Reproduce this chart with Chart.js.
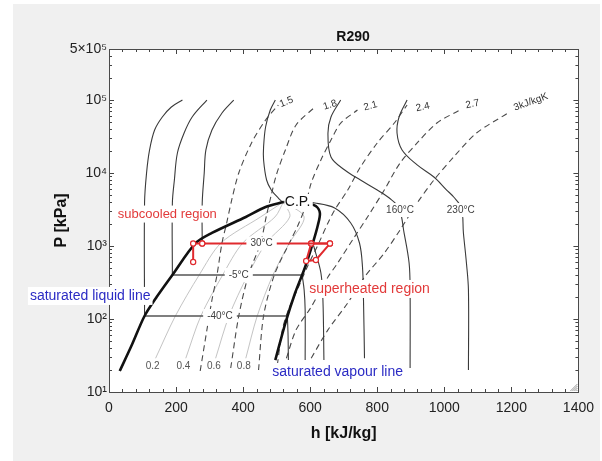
<!DOCTYPE html>
<html>
<head>
<meta charset="utf-8">
<script src="https://cdn.jsdelivr.net/npm/chart.js@4.4.1/dist/chart.umd.min.js"></script>
<style>
html,body{margin:0;padding:0;background:#ffffff;overflow:hidden;}
canvas{display:block;}
</style>
</head>
<body>
<canvas id="chart" width="602" height="461"></canvas>
<script>
// ---------------- values ----------------
const xTickValues = [0, 200, 400, 600, 800, 1000, 1200, 1400];
const yTickValues = [10, 100, 1000, 10000, 100000, 500000];
const yTickLabels = ['10¹', '10²', '10³', '10⁴', '10⁵', '5×10⁵'];

// saturation dome (h in kJ/kg, P in kPa)
const satLiquidH = [32, 68, 106, 142, 189, 257, 307, 408, 467, 520];
const satLiquidP = [19.4, 44, 110, 200, 401, 1080, 1510, 2500, 3420, 4010];
const satVapourH = [520, 579, 617, 629, 623, 608, 585, 555, 526, 496];
const satVapourP = [4010, 3880, 3530, 2830, 1940, 1100, 515, 227, 88, 27.4];

// isotherm -40 °C
const tM40LiqH = [219, 186, 159, 136, 121, 112, 106, 106];
const tM40LiqP = [100000, 80200, 58500, 38800, 20700, 10000, 3880, 110];
const tM40SatH = [106, 532];
const tM40SatP = [110, 110];
const tM40VapH = [532, 534, 535];
const tM40VapP = [110, 60, 27.4];
// isotherm -5 °C
const tM5LiqH = [292, 248, 224, 204, 195, 189, 189];
const tM5LiqP = [100000, 58500, 35300, 18800, 8020, 3880, 401];
const tM5SatH = [189, 576];
const tM5SatP = [401, 401];
const tM5VapH = [576, 582, 585, 585];
const tM5VapP = [401, 249, 133, 27.4];
// isotherm 30 °C
const t30LiqH = [372, 337, 307, 289, 284, 278, 278];
const t30LiqP = [100000, 66400, 38800, 20700, 10000, 3880, 1080];
const t30VapH = [608, 614, 632, 638, 641];
const t30VapP = [1080, 880, 427, 182, 27.4];
// critical isotherm
const tCritH = [496, 481, 467, 461, 461, 470, 484, 505, 520, 564, 614, 673, 721, 747, 756, 759, 762];
const tCritP = [100000, 72900, 42700, 22700, 15100, 8020, 5850, 4540, 4010, 4010, 3880, 3320, 2070, 1100, 515, 182, 29];
// isotherm 160 °C
const t160H = [691, 662, 653, 662, 703, 750, 800, 836, 865, 880, 895, 898, 898];
const t160P = [100000, 58500, 35300, 16600, 11000, 8020, 5850, 4540, 3320, 1510, 585, 249, 21.3];
// isotherm 230 °C
const t230H = [889, 865, 859, 874, 919, 969, 1007, 1028, 1051, 1057, 1066, 1072, 1072];
const t230P = [100000, 58500, 35300, 20700, 12900, 8810, 5850, 4690, 3320, 1510, 585, 249, 20];

// isentropes (kJ/kg-K)
const entropyValues = [1.5, 1.8, 2.1, 2.4, 2.7, 3.0];
const s15H = [272, 292, 307, 322, 337, 351, 366, 387, 425, 467, 505];
const s15P = [19.4, 71, 182, 401, 1100, 2070, 4270, 10000, 25800, 53200, 85500];
const s18H = [363, 387, 416, 452, 470, 484, 499, 526, 558, 614];
const s18P = [21.3, 110, 401, 1100, 2660, 5000, 9400, 20700, 45500, 80200];
const s21H = [446, 461, 493, 538, 564, 585, 603, 632, 662, 691, 741];
const s21P = [20, 110, 401, 1100, 1940, 3420, 7290, 15100, 28300, 48400, 72900];
const s24H = [502, 517, 535, 564, 594, 623, 653, 673, 712, 750, 800, 851, 889];
const s24P = [23.4, 71, 133, 266, 550, 1030, 2070, 3110, 5850, 12100, 25800, 48400, 85500];
const s27H = [529, 558, 603, 653, 682, 732, 771, 821, 868, 919, 978, 1046];
const s27P = [29, 71, 146, 376, 585, 1330, 2500, 5850, 13700, 25800, 48400, 72900];
const s30H = [603, 653, 712, 762, 821, 868, 919, 969, 1028, 1096, 1190];
const s30P = [29, 71, 166, 376, 800, 1660, 3880, 8020, 16600, 35300, 66400];

// vapour quality lines
const qualityValues = [0.2, 0.4, 0.6, 0.8];
const qualityP = [29, 110, 401, 1100, 2500, 4010];
const q02H = [139, 198, 269, 334, 452, 520];
const q04H = [229, 274, 339, 399, 495, 520];
const q06H = [318, 358, 414, 469, 539, 520];
const q08H = [408, 442, 489, 538, 582, 520];

// refrigeration cycle (red)
const cycleExpH = [251, 251, 278];
const cycleExpP = [604, 1080, 1080];
const cycleCondH = [278, 659];
const cycleCondP = [1080, 1080];
const cycleCompH = [603, 659, 617, 588, 603];
const cycleCompP = [1080, 1080, 643, 623, 1080];

// ---------------- annotation anchors (data coordinates) ----------------
const isoLabels = [
  { text: '-40°C', h: 331, p: 110 },
  { text: '-5°C', h: 387, p: 401 },
  { text: '30°C', h: 455, p: 1080 },
  { text: '160°C', h: 868, p: 3110 },
  { text: '230°C', h: 1049, p: 3110 }
];
const qualityLabelAnchors = { h: [130, 222, 313, 402], p: 22.7 };
const entropyLabelAnchors = [
  { h: 529, p: 93900, rot: -22 },
  { h: 659, p: 85500, rot: -18 },
  { h: 780, p: 82800, rot: -15 },
  { h: 936, p: 80200, rot: -12 },
  { h: 1084, p: 88100, rot: -12 },
  { h: 1258, p: 93900, rot: -20 }
];
const regionLabels = [
  { text: 'subcooled region', h: 174, p: 2740, color: '#e23a3a', size: 13 },
  { text: 'superheated region', h: 777, p: 258, color: '#e23a3a', size: 14 },
  { text: 'saturated vapour line', h: 682, p: 18.8, color: '#2b2bc4', size: 14 },
  { text: 'saturated liquid line', h: -56, p: 207, color: '#2b2bc4', size: 14 }
];

// ---------------- chart ----------------
const FONT = "'Liberation Sans', Arial, sans-serif";
Chart.defaults.font.family = FONT;

function pts(h, p) {
  return h.map((x, i) => ({ x: x, y: Array.isArray(p) ? p[i] : p }));
}
function line(h, p, opts) {
  return Object.assign({
    data: pts(h, p), showLine: true, pointRadius: 0, pointHoverRadius: 0,
    borderWidth: 1, borderColor: '#3c3c3c', tension: 0.35, fill: false
  }, opts || {});
}
const RED = '#e02a2e';
const redPts = { borderColor: RED, borderWidth: 2, tension: 0, pointRadius: 2.6,
  pointBackgroundColor: '#ffffff', pointBorderColor: RED, pointBorderWidth: 1.2 };
const isoStyle = { borderColor: '#3a3a3a', borderWidth: 1.1 };
const domeIso = { borderColor: '#555555', borderWidth: 1.6, tension: 0 };
const dashStyle = { borderColor: '#4a4a4a', borderWidth: 1.1, borderDash: [6, 4], tension: 0.3 };
const qualStyle = { borderColor: '#c4c4c4', borderWidth: 1, tension: 0.3 };
const satStyle = { borderColor: '#111111', borderWidth: 2.6, tension: 0.3 };

const datasets = [
  line(cycleExpH, cycleExpP, redPts),
  line(cycleCondH, cycleCondP, redPts),
  line(cycleCompH, cycleCompP, redPts),
  line(satLiquidH, satLiquidP, satStyle),
  line(satVapourH, satVapourP, satStyle),
  line(tM40LiqH, tM40LiqP, isoStyle),
  line(tM40SatH, tM40SatP, domeIso),
  line(tM40VapH, tM40VapP, isoStyle),
  line(tM5LiqH, tM5LiqP, isoStyle),
  line(tM5SatH, tM5SatP, domeIso),
  line(tM5VapH, tM5VapP, isoStyle),
  line(t30LiqH, t30LiqP, isoStyle),
  line(t30VapH, t30VapP, isoStyle),
  line(tCritH, tCritP, isoStyle),
  line(t160H, t160P, isoStyle),
  line(t230H, t230P, isoStyle),
  line(s15H, s15P, dashStyle),
  line(s18H, s18P, dashStyle),
  line(s21H, s21P, dashStyle),
  line(s24H, s24P, dashStyle),
  line(s27H, s27P, dashStyle),
  line(s30H, s30P, dashStyle),
  line(q02H, qualityP, qualStyle),
  line(q04H, qualityP, qualStyle),
  line(q06H, qualityP, qualStyle),
  line(q08H, qualityP, qualStyle)
];

function boxedText(ctx, text, x, y, size, color, pad, weight) {
  ctx.font = (weight || 'normal') + ' ' + size + 'px ' + FONT;
  const w = ctx.measureText(text).width;
  ctx.fillStyle = '#ffffff';
  ctx.fillRect(x - w / 2 - pad, y - size / 2 - 2, w + 2 * pad, size + 4);
  ctx.fillStyle = color;
  ctx.textAlign = 'center';
  ctx.textBaseline = 'middle';
  ctx.fillText(text, x, y);
}

const decor = {
  id: 'decor',
  beforeDraw(chart) {
    const { ctx, chartArea: a } = chart;
    ctx.save();
    ctx.fillStyle = '#ffffff';
    ctx.fillRect(0, 0, chart.width, chart.height);
    ctx.fillStyle = '#f0f0f0';
    ctx.fillRect(13, 4, 587, chart.height - 4);
    ctx.fillStyle = '#ffffff';
    ctx.fillRect(a.left, a.top, a.right - a.left, a.bottom - a.top);
    ctx.restore();
  },
  afterDraw(chart) {
    const { ctx, chartArea: a } = chart;
    const xs = chart.scales.x, ys = chart.scales.y;
    ctx.save();
    // ticks (pointing inward)
    ctx.strokeStyle = '#444444';
    ctx.lineWidth = 1;
    ctx.beginPath();
    for (let v = 0; v <= 1400; v += 40) {
      const px = Math.round(xs.getPixelForValue(v)) + 0.5;
      const len = (v % 200 === 0) ? 5 : 3;
      ctx.moveTo(px, a.bottom); ctx.lineTo(px, a.bottom - len);
      ctx.moveTo(px, a.top); ctx.lineTo(px, a.top + len);
    }
    for (let d = 10; d <= 100000; d *= 10) {
      for (let m = 1; m <= 9; m++) {
        const v = m * d;
        if (v > 500000) break;
        const py = Math.round(ys.getPixelForValue(v)) + 0.5;
        const len = (m === 1) ? 5 : 3;
        ctx.moveTo(a.left, py); ctx.lineTo(a.left + len, py);
        ctx.moveTo(a.right, py); ctx.lineTo(a.right - len, py);
      }
    }
    ctx.stroke();
    // frame
    ctx.strokeStyle = '#4a4a4a';
    ctx.strokeRect(Math.round(a.left) + 0.5, Math.round(a.top) + 0.5,
      Math.round(a.right - a.left), Math.round(a.bottom - a.top));
    // resize grip
    ctx.strokeStyle = '#9a9a9a';
    ctx.beginPath();
    for (let k = 0; k < 7; k += 2) {
      ctx.moveTo(a.right - 1, a.bottom - 8 + k);
      ctx.lineTo(a.right - 8 + k, a.bottom - 1);
    }
    ctx.stroke();

    // title
    ctx.font = 'bold 14px ' + FONT;
    ctx.fillStyle = '#111111';
    ctx.textAlign = 'center';
    ctx.textBaseline = 'middle';
    ctx.fillText('R290', 353, 37);

    // isotherm labels
    isoLabels.forEach(l => {
      boxedText(ctx, l.text, xs.getPixelForValue(l.h), ys.getPixelForValue(l.p), 10, '#404040', 4);
    });
    // critical point
    {
      const cx = xs.getPixelForValue(satLiquidH[satLiquidH.length - 1]);
      const cy = ys.getPixelForValue(satLiquidP[satLiquidP.length - 1]);
      ctx.font = '14px ' + FONT;
      const w = ctx.measureText('C.P.').width;
      ctx.fillStyle = '#ffffff';
      ctx.fillRect(cx + 1, cy - 8, w + 3, 15);
      ctx.fillStyle = '#111111';
      ctx.textAlign = 'left';
      ctx.textBaseline = 'middle';
      ctx.fillText('C.P.', cx + 1.5, cy);
    }
    // quality labels
    ctx.font = '10px ' + FONT;
    ctx.fillStyle = '#555555';
    ctx.textAlign = 'center';
    ctx.textBaseline = 'middle';
    qualityValues.forEach((q, i) => {
      ctx.fillText(q.toFixed(1), xs.getPixelForValue(qualityLabelAnchors.h[i]),
        ys.getPixelForValue(qualityLabelAnchors.p));
    });
    // entropy labels
    entropyValues.forEach((s, i) => {
      const an = entropyLabelAnchors[i];
      const txt = (i === entropyValues.length - 1) ? '3kJ/kgK' : s.toFixed(1);
      ctx.save();
      ctx.translate(xs.getPixelForValue(an.h), ys.getPixelForValue(an.p));
      ctx.rotate(an.rot * Math.PI / 180);
      ctx.font = '10px ' + FONT;
      ctx.fillStyle = '#333333';
      ctx.textAlign = 'center';
      ctx.textBaseline = 'middle';
      ctx.fillText(txt, 0, 0);
      ctx.restore();
    });
    // region labels
    regionLabels.forEach(l => {
      boxedText(ctx, l.text, xs.getPixelForValue(l.h), ys.getPixelForValue(l.p), l.size, l.color, 2);
    });
    ctx.restore();
  }
};

new Chart(document.getElementById('chart'), {
  type: 'scatter',
  data: { datasets: datasets },
  options: {
    responsive: false,
    animation: false,
    devicePixelRatio: 1,
    layout: { padding: { left: 0, right: 19, top: 49, bottom: 0 } },
    plugins: { legend: { display: false }, tooltip: { enabled: false }, title: { display: false } },
    elements: { point: { radius: 0, hoverRadius: 0 } },
    scales: {
      x: {
        type: 'linear', position: 'bottom', min: 0, max: 1400,
        grid: { display: false, drawTicks: false }, border: { display: false },
        afterBuildTicks: s => { s.ticks = xTickValues.map(v => ({ value: v })); },
        afterFit: s => { s.height = 69; },
        ticks: { padding: 8, autoSkip: false, maxRotation: 0, color: '#222222',
          font: { size: 14 }, callback: v => String(v) },
        title: { display: true, text: 'h [kJ/kg]', color: '#111111',
          font: { size: 16, weight: 'bold' }, padding: { top: 0, bottom: 18 } }
      },
      y: {
        type: 'logarithmic', position: 'left', min: 10, max: 500000,
        grid: { display: false, drawTicks: false }, border: { display: false },
        afterBuildTicks: s => { s.ticks = yTickValues.map(v => ({ value: v })); },
        afterFit: s => { s.width = 109; },
        ticks: { padding: 2, autoSkip: false, color: '#222222', font: { size: 14 },
          callback: v => {
            const i = yTickValues.findIndex(t => Math.abs(t - v) / t < 1e-6);
            return i >= 0 ? yTickLabels[i] : '';
          } },
        title: { display: true, text: 'P [kPa]', color: '#111111',
          font: { size: 16, weight: 'bold' }, padding: { top: 52, bottom: 0 } }
      }
    }
  },
  plugins: [decor]
});
</script>
</body>
</html>
